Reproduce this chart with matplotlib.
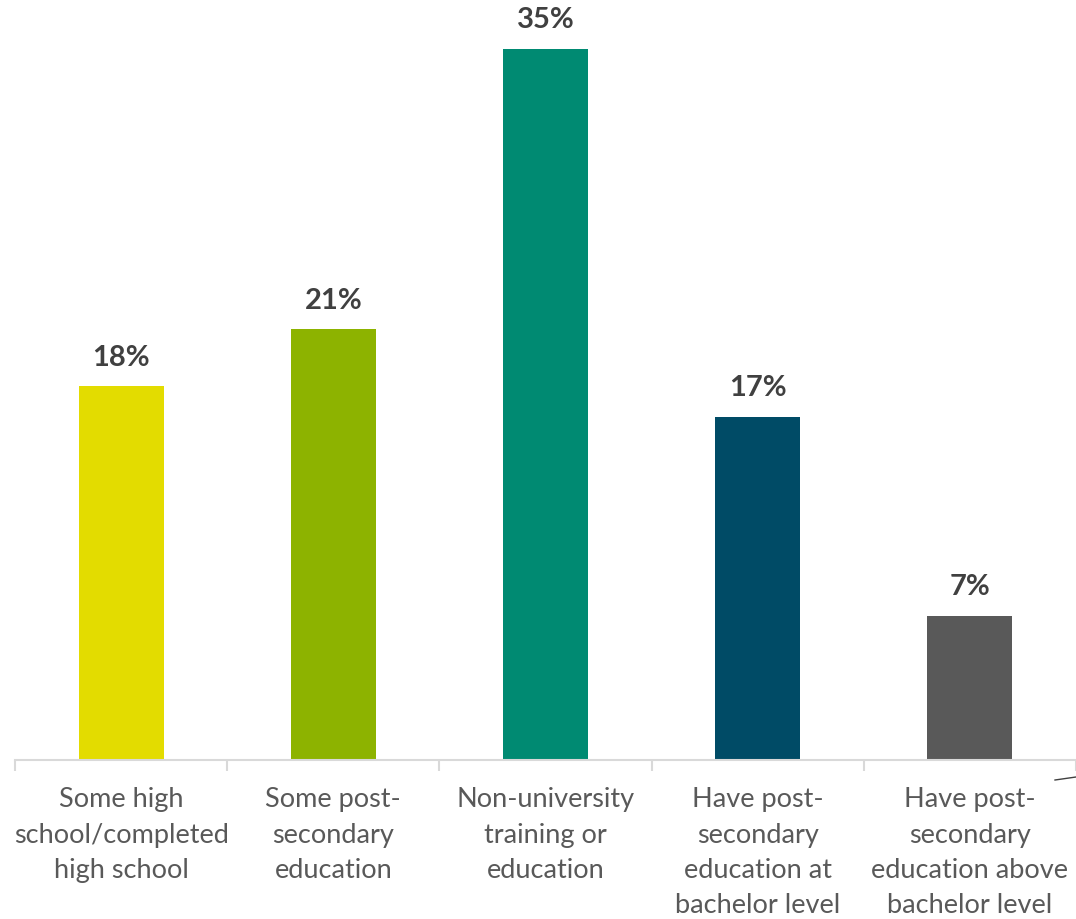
import matplotlib.pyplot as plt
from matplotlib.lines import Line2D

categories = [
    "Some high\nschool/completed\nhigh school",
    "Some post-\nsecondary\neducation",
    "Non-university\ntraining or\neducation",
    "Have post-\nsecondary\neducation at\nbachelor level",
    "Have post-\nsecondary\neducation above\nbachelor level",
]
values = [18.4, 21.2, 35.0, 16.9, 7.1]
colors = ["#e3dc00", "#8db300", "#008a72", "#004b66", "#595959"]

plt.rcParams['font.family'] = ['Lato', 'DejaVu Sans']

fig = plt.figure(figsize=(10.76, 9.2), dpi=100)
ax = fig.add_axes([0.0139, 0.1728, 0.9861, 0.7728])

x = range(len(values))
ax.bar(x, values, width=0.4, color=colors)

for i, v in enumerate(values):
    ax.annotate(f"{round(v)}%", (i, v), xytext=(0, 12), textcoords="offset points",
                ha="center", va="bottom", fontsize=21, fontweight="bold",
                color="#404040", annotation_clip=False)

ax.set_xlim(-0.5, 4.5)
ax.set_ylim(0, 35)
ax.set_yticks([])
for s in ["top", "right", "left"]:
    ax.spines[s].set_visible(False)
ax.spines["bottom"].set_color("#d9d9d9")
ax.spines["bottom"].set_linewidth(1.5)

ax.set_xticks([i + 0.5 for i in range(-1, 5)], minor=True)
ax.tick_params(axis="x", which="minor", length=8, width=1.5, color="#d9d9d9")
ax.set_xticks(list(x))
ax.set_xticklabels(categories, fontsize=19.5, color="#595959", linespacing=1.51)
ax.tick_params(axis="x", which="major", length=0, pad=19)

# small stray stroke at the right end of the axis
fig.add_artist(Line2D([1055 / 1076, 1.0], [1 - 781 / 920, 1 - 778 / 920],
                      color="#404040", linewidth=1))

fig.savefig("out.png", dpi=100)
